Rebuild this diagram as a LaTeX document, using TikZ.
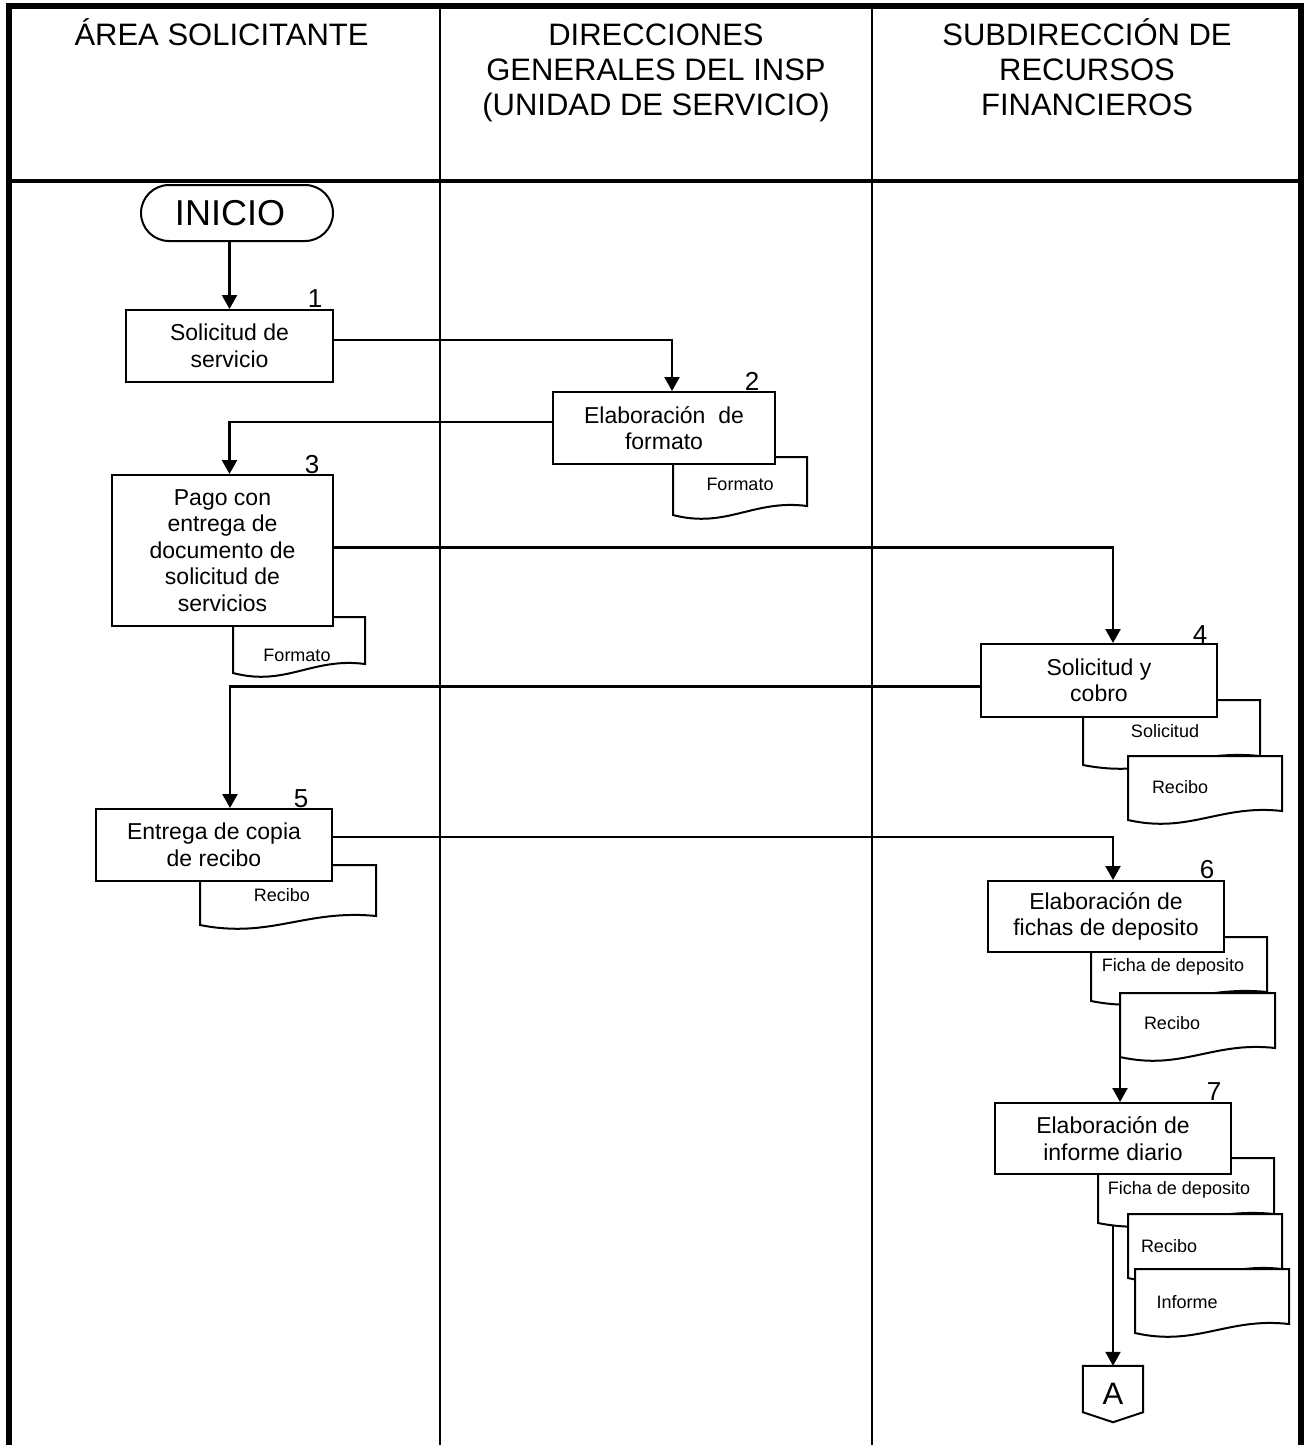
\documentclass[tikz,border=0pt]{standalone}
\usepackage{fontspec}
\setmainfont{Liberation Sans}
\usetikzlibrary{arrows.meta,shapes.misc,calc}
\pgfdeclarelayer{bg}
\pgfsetlayers{bg,main}
\tikzset{
  frameline/.style={line width=5.5pt},
  hdrline/.style={line width=3.5pt},
  divline/.style={line width=2.6pt},
  hdr/.style={inner sep=0pt, align=center, font=\fontsize{31}{35}\selectfont},
  proc/.style={draw, line width=2pt, fill=white, inner sep=0pt, align=center, font=\fontsize{23}{26.5}\selectfont},
  term/.style={draw, rounded rectangle, line width=2pt, fill=white, inner sep=0pt, minimum width=192pt, minimum height=56pt, font=\fontsize{36}{40}\selectfont},
  docline/.style={draw, line width=2pt, fill=white},
  doctext/.style={inner sep=0pt, font=\fontsize{18}{21}\selectfont},
  num/.style={inner sep=0pt, anchor=base, font=\fontsize{26}{29}\selectfont},
  conn/.style={line width=2.4pt, -{Triangle[width=15pt,length=14pt]}},
  offpage/.style={inner sep=0pt, minimum width=60pt, minimum height=56pt, font=\fontsize{31}{34}\selectfont}
}
\newcommand{\procbox}[6]{\node[proc, minimum width={#4-#2}, minimum height={#5-#3}] (#1) at ({(#2+#4)/2},{(#3+#5)/2}) {#6};}
\newcommand{\docshape}[4]{\draw[docline] (#1,#2) -- (#3,#2) -- ({#3},{#4-9}) .. controls ({#1+0.6*(#3-#1)},{#4-16}) and ({#1+0.4*(#3-#1)},{#4+14}) .. (#1,#4) -- cycle;}
\begin{document}
\begin{tikzpicture}[x=1pt,y=-1pt]
\useasboundingbox (0,0) rectangle (1306,1445);
\begin{pgfonlayer}{bg}
  % frame
  \draw[frameline] (6,6) -- (1304,6);
  \draw[frameline] (9,3) -- (9,1445);
  \draw[frameline] (1301,3) -- (1301,1445);
  \draw[hdrline] (9,181) -- (1301,181);
  \draw[divline] (440,6) -- (440,1445);
  \draw[divline] (872,6) -- (872,1445);
  % documents
  \docshape{673}{457}{807}{515}
  \node[doctext] (d2) at (740,484) {Formato};
  \docshape{233}{617}{365}{673}
  \node[doctext] (d3) at (297,655) {Formato};
  \docshape{1083}{700}{1260}{765}
  \node[doctext] (d4a) at (1165,731) {Solicitud};
  \docshape{1128}{756}{1282}{820}
  \node[doctext] (d4b) at (1180,787) {Recibo};
  \docshape{200}{865}{376}{925}
  \node[doctext] (d5) at (282,895) {Recibo};
  \docshape{1091}{937}{1267}{1001}
  \node[doctext] (d6a) at (1173,967) {Ficha de deposito};
  \docshape{1120}{993}{1275}{1057}
  \node[doctext] (d6b) at (1172,1023) {Recibo};
  \docshape{1098}{1158}{1274}{1223}
  \node[doctext] (d7a) at (1179,1190) {Ficha de deposito};
  \docshape{1128}{1214}{1282}{1278}
  \node[doctext] (d7b) at (1169,1246) {Recibo};
  \docshape{1135}{1269}{1289}{1333}
  \node[doctext] (d7c) at (1187,1302) {Informe};
\end{pgfonlayer}
% headers
\node[hdr, anchor=north] (h1) at (221.5,16) {\rule{0pt}{29pt}ÁREA SOLICITANTE};
\node[hdr, anchor=north] (h2) at (656,16) {\rule{0pt}{29pt}DIRECCIONES\\GENERALES DEL INSP\\(UNIDAD DE SERVICIO)};
\node[hdr, anchor=north] (h3) at (1087,16) {\rule{0pt}{29pt}SUBDIRECCIÓN DE\\RECURSOS\\FINANCIEROS};
% start
\node[term] (ini) at (237,213) {\hspace*{-14pt}INICIO};
% process boxes
\procbox{b1}{126}{310}{333}{382}{Solicitud de\\servicio}
\procbox{b2}{553}{392}{775}{464}{Elaboración\ \ de\\formato}
\procbox{b3}{112}{475}{333}{626}{Pago con\\entrega de\\documento de\\solicitud de\\servicios}
\procbox{b4}{981}{644}{1217}{717}{Solicitud y\\cobro}
\procbox{b5}{96}{809}{332}{881}{Entrega de copia\\de recibo}
\procbox{b6}{988}{881}{1224}{952}{Elaboración de\\fichas de deposito}
\procbox{b7}{995}{1103}{1231}{1174}{Elaboración de\\informe diario}
% step numbers
\node[num] (n1) at (315,307) {1};
\node[num] (n2) at (752,390) {2};
\node[num] (n3) at (312,473) {3};
\node[num] (n4) at (1200,643) {4};
\node[num] (n5) at (301,807) {5};
\node[num] (n6) at (1207,878) {6};
\node[num] (n7) at (1214,1100) {7};
% off-page connector
\node[offpage] (offA) at (1113,1394) {A};
\draw[line width=2pt] (offA.north west) -- (offA.north east) -- ([yshift=10pt]offA.south east) -- (offA.south) -- ([yshift=10pt]offA.south west) -- cycle;
% connectors
\coordinate (s6) at (1120,1004);
\coordinate (s7) at (1113,1226);
\draw[conn] (ini.south -| b1.north) -- (b1.north);
\draw[conn] ([yshift=6pt]b1.east) -| ([xshift=8pt]b2.north);
\draw[conn] ([yshift=6pt]b2.west) -| ([xshift=7pt]b3.north);
\draw[conn] ([yshift=3pt]b3.east) -| ([xshift=14pt]b4.north);
\draw[conn] ([yshift=-6pt]b4.west) -| ([xshift=16pt]b5.north);
\draw[conn] ([yshift=8pt]b5.east) -| ([xshift=7pt]b6.north);
\draw[conn] (s6) -- (s6 |- b7.north);
\draw[conn] (s7) -- (offA.north);
\end{tikzpicture}
\end{document}
